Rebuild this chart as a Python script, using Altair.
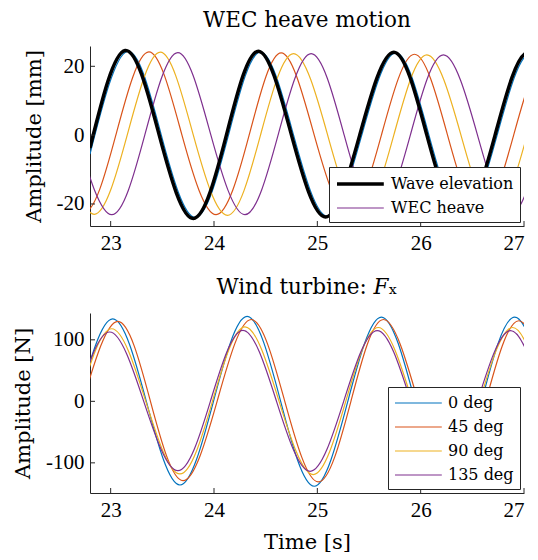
import altair as alt
import pandas as pd

# ---------------- Top panel: WEC heave motion [mm] ----------------
wave_t = [22.80, 23.14, 23.47, 23.80, 24.12, 24.43, 24.75, 25.08, 25.41, 25.74, 26.06, 26.39, 26.72, 27.04, 27.36]
wave_y = [-3.7, 24.6, 0.0, -24.2, 0.0, 24.4, 0.0, -23.8, 0.0, 24.1, 0.0, -23.9, 0.0, 24.0, 0.0]

heave0_t = [22.80, 23.16, 23.49, 23.82, 24.14, 24.45, 24.77, 25.10, 25.43, 25.76, 26.08, 26.41, 26.74, 27.06, 27.38]
heave0_y = [-5.5, 24.3, 0.0, -23.9, 0.0, 24.1, 0.0, -23.6, 0.0, 23.9, 0.0, -23.6, 0.0, 23.7, 0.0]

heave45_t = [22.42, 22.74, 23.05, 23.37, 23.69, 24.02, 24.34, 24.65, 24.97, 25.30, 25.62, 25.94, 26.26, 26.58, 26.90, 27.22, 27.54]
heave45_y = [0.0, -22.5, 0.0, 24.2, 0.0, -23.1, 0.0, 23.9, 0.0, -23.0, 0.0, 23.5, 0.0, -23.0, 0.0, 23.3, 0.0]

heave90_t = [22.52, 22.84, 23.16, 23.48, 23.80, 24.13, 24.45, 24.77, 25.10, 25.42, 25.74, 26.06, 26.39, 26.71, 27.03]
heave90_y = [0.0, -23.0, 0.0, 24.1, 0.0, -23.3, 0.0, 23.7, 0.0, -23.1, 0.0, 23.3, 0.0, -23.1, 0.0]

heave135_t = [22.67, 23.01, 23.33, 23.65, 23.97, 24.30, 24.62, 24.94, 25.26, 25.58, 25.90, 26.22, 26.55, 26.87, 27.19]
heave135_y = [0.0, -23.1, 0.0, 24.0, 0.0, -23.1, 0.0, 23.7, 0.0, -23.1, 0.0, 23.3, 0.0, -23.1, 0.0]

# ---------------- Bottom panel: Wind turbine Fx [N] ----------------
fx0_t = [22.69, 23.02, 23.345, 23.67, 23.995, 24.32, 24.645, 24.97, 25.295, 25.62, 25.945, 26.27, 26.59, 26.91, 27.235]
fx0_y = [0.0, 134.0, 0.0, -136.0, 0.0, 138.0, 0.0, -138.0, 0.0, 137.0, 0.0, -137.0, 0.0, 137.0, 0.0]

fx45_t = [22.73, 23.07, 23.385, 23.70, 24.03, 24.36, 24.685, 25.01, 25.325, 25.64, 25.975, 26.31, 26.63, 26.95, 27.275]
fx45_y = [0.0, 130.0, 0.0, -129.0, 0.0, 133.0, 0.0, -131.0, 0.0, 133.0, 0.0, -131.0, 0.0, 131.0, 0.0]

fx90_t = [22.69, 23.01, 23.34, 23.67, 23.985, 24.30, 24.63, 24.96, 25.275, 25.59, 25.92, 26.25, 26.57, 26.89, 27.21]
fx90_y = [0.0, 118.0, 0.0, -118.0, 0.0, 121.0, 0.0, -119.0, 0.0, 120.0, 0.0, -119.0, 0.0, 120.0, 0.0]

fx135_t = [22.67, 22.99, 23.32, 23.65, 23.965, 24.28, 24.605, 24.93, 25.255, 25.58, 25.905, 26.23, 26.55, 26.87, 27.19]
fx135_y = [0.0, 112.7, 0.0, -112.7, 0.0, 115.4, 0.0, -113.8, 0.0, 115.0, 0.0, -113.0, 0.0, 115.0, 0.0]

x_ticks = [23, 24, 25, 26, 27]
top_y_ticks = [-20, 0, 20]
bot_y_ticks = [-100, 0, 100]

top_names = ["Wave elevation", "WEC heave 0", "WEC heave 45", "WEC heave 90", "WEC heave"]
top_colors = ["#000000", "#0072BD", "#D95319", "#EDB120", "#7E2F8E"]
top_widths = [3.5, 1.2, 1.2, 1.2, 1.2]
bot_names = ["0 deg", "45 deg", "90 deg", "135 deg"]
bot_colors = ["#0072BD", "#D95319", "#EDB120", "#7E2F8E"]

W, H = 434, 180
AX = "#262626"
NUMFONT = "Liberation Serif"
TXTFONT = "DejaVu Serif"

x_scale = alt.Scale(domain=[22.8, 27], nice=False, zero=False)
label_expr = "datum.value < 0 ? '-' + format(-datum.value, 'd') : format(datum.value, 'd')"


def frame(t, y, name):
    return pd.DataFrame({"t": t, "y": y, "s": [name] * len(t)})


def make_legend(values=None, sw=None):
    kw = dict(title=None, orient="bottom-right", offset=4, fillColor="white",
              strokeColor=AX, padding=6, symbolType="M-1,0H4.2", symbolSize=324,
              labelOffset=34, rowPadding=6, labelFont=TXTFONT, labelFontSize=16,
              labelColor="black")
    if values is not None:
        kw["values"] = values
    if sw is not None:
        kw["symbolStrokeWidth"] = sw
    return alt.Legend(**kw)


def panel(series, names, colors, y_scale, y_ticks, y_title, x_title, legend, widths, title):
    x_axis = alt.Axis(values=x_ticks, title=x_title, labelExpr=label_expr, titlePadding=11)
    y_axis = alt.Axis(values=y_ticks, title=y_title, labelExpr=label_expr, titlePadding=12)
    layers = []
    for t, y, n in series:
        enc = dict(
            x=alt.X("t:Q", scale=x_scale, axis=x_axis),
            y=alt.Y("y:Q", scale=y_scale, axis=y_axis),
            color=alt.Color("s:N", scale=alt.Scale(domain=names, range=colors), legend=legend),
        )
        mk = dict(interpolate="natural", clip=True)
        if widths is not None:
            enc["strokeWidth"] = alt.StrokeWidth(
                "s:N", scale=alt.Scale(type="ordinal", domain=names, range=widths), legend=legend)
        else:
            mk["strokeWidth"] = 1.2
        layers.append(alt.Chart(frame(t, y, n)).mark_line(**mk).encode(**enc))
    xt = alt.Chart(pd.DataFrame({"t": x_ticks})).mark_rule(color=AX, strokeWidth=1).encode(
        x=alt.X("t:Q", scale=x_scale, axis=x_axis), y=alt.value(H), y2=alt.value(H - 5))
    yt = alt.Chart(pd.DataFrame({"y": y_ticks})).mark_rule(color=AX, strokeWidth=1).encode(
        y=alt.Y("y:Q", scale=y_scale, axis=y_axis), x=alt.value(0), x2=alt.value(5))
    return alt.layer(*layers, xt, yt).properties(width=W, height=H, title=alt.Title(title))


top_series = [
    (heave0_t, heave0_y, top_names[1]),
    (heave45_t, heave45_y, top_names[2]),
    (heave90_t, heave90_y, top_names[3]),
    (heave135_t, heave135_y, top_names[4]),
    (wave_t, wave_y, top_names[0]),
]
top = panel(top_series, top_names, top_colors,
            alt.Scale(domain=[-26.4, 25.9], nice=False, zero=False), top_y_ticks,
            "Amplitude [mm]", None, make_legend(["Wave elevation", "WEC heave"]), top_widths,
            "WEC heave motion")

bot_series = [
    (fx0_t, fx0_y, bot_names[0]),
    (fx45_t, fx45_y, bot_names[1]),
    (fx90_t, fx90_y, bot_names[2]),
    (fx135_t, fx135_y, bot_names[3]),
]
bottom = panel(bot_series, bot_names, bot_colors,
               alt.Scale(domain=[-149, 143.6], nice=False, zero=False), bot_y_ticks,
               "Amplitude [N]", "Time [s]", make_legend(sw=1.2), None,
               "Wind turbine: 𝐹ₓ")

chart = (
    alt.vconcat(top, bottom, spacing=23)
    .resolve_scale(color="independent", strokeWidth="independent")
    .resolve_legend(color="independent", strokeWidth="independent")
    .properties(padding={"left": 4, "top": 1, "right": 0, "bottom": 0})
    .configure_view(stroke=None)
    .configure_axis(domainColor=AX, domainWidth=1, ticks=False, grid=False,
                    labelFont=NUMFONT, labelFontSize=21, labelColor="black", labelPadding=6,
                    titleFont=TXTFONT, titleFontSize=21, titleFontWeight="normal", titleColor="black")
    .configure_title(font=TXTFONT, fontSize=21.5, fontWeight="normal", color="black",
                     frame="group", anchor="middle", baseline="alphabetic", offset=15)
)

chart.save("out.html", embed_options={"renderer": "svg", "actions": False})
